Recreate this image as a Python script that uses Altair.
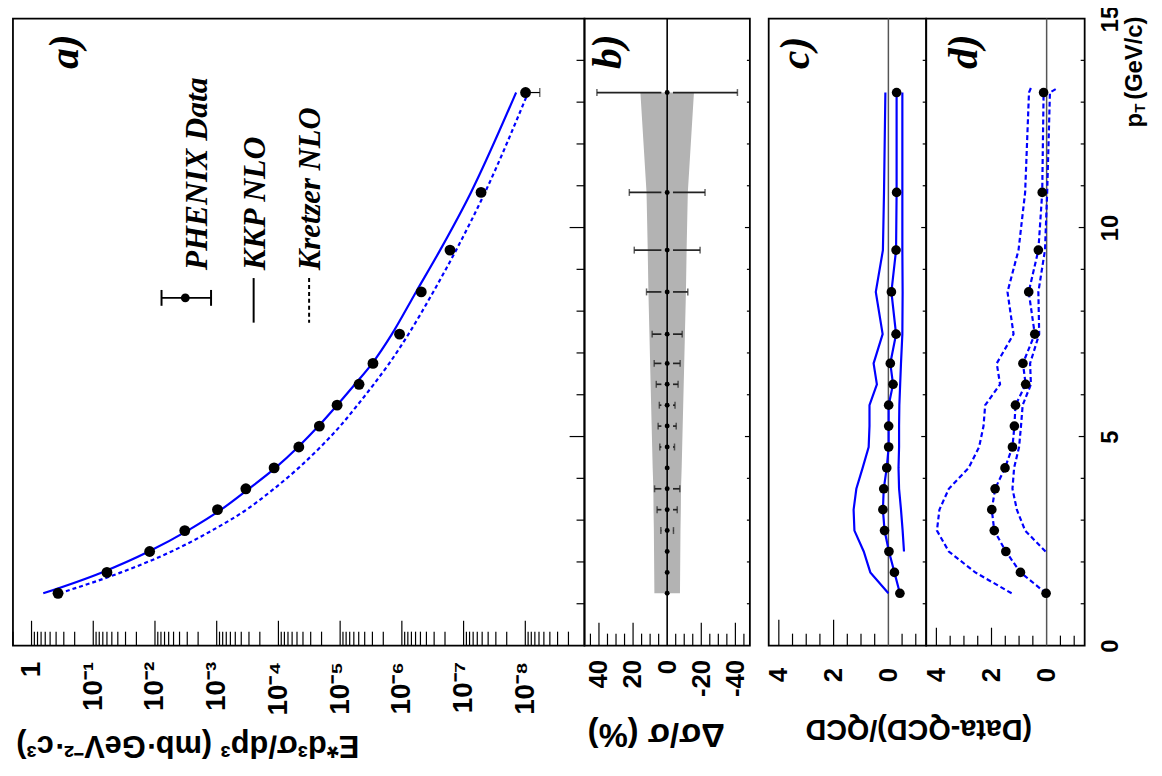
import altair as alt
import pandas as pd

# ---------------- values ----------------
pt = [1.25, 1.75, 2.25, 2.75, 3.25, 3.75, 4.25, 4.75, 5.25, 5.75,
      6.25, 6.75, 7.45, 8.46, 9.46, 10.84, 13.23]
xsec_data = [0.372, 0.0600, 0.0122, 3.29e-3, 9.70e-4, 3.37e-4, 1.175e-4,
             4.67e-5, 2.17e-5, 1.12e-5, 4.94e-6, 2.94e-6, 1.09e-6, 4.85e-7,
             1.66e-7, 5.21e-8, 9.9e-9]
xsec_kkp = [0.646, 0.0724, 0.0126, 2.95e-3, 8.51e-4, 3.02e-4, 1.12e-4,
            4.79e-5, 2.24e-5, 1.12e-5, 5.75e-6, 3.02e-6, 1.45e-6, 5.89e-7,
            2.40e-7, 7.59e-8, 1.41e-8]
xsec_kretzer = [0.355, 0.0355, 5.4e-3, 1.2e-3, 3.3e-4, 1.18e-4, 4.7e-5,
                2.08e-5, 1.0e-5, 5.25e-6, 2.85e-6, 1.6e-6, 7.8e-7, 3.1e-7,
                1.32e-7, 4.5e-8, 9.0e-9]
stat_err_pct = [0.0, 0.0, 0.0, 3.7, 5.9, 7.4, 0.0, 4.3, 5.3, 4.6, 6.4, 7.6,
                8.8, 12.1, 19.3, 22.2, 41.2]
sys_err_pct = [7.5, 7.6, 7.7, 7.8, 8.0, 8.1, 8.5, 8.8, 9.1, 9.4, 9.7, 10.0,
               10.4, 11.0, 11.4, 12.1, 15.7]

ratio_kkp = [-0.42, -0.22, -0.02, 0.14, 0.20, 0.17, 0.06, -0.01, -0.01,
             -0.01, -0.17, -0.07, -0.28, -0.11, -0.28, -0.30, -0.30]
ratio_kkp_mu2 = [0.0, 0.66, 0.90, 1.24, 1.27, 1.17, 0.94, 0.72, 0.69, 0.69,
                 0.42, 0.54, 0.21, 0.46, 0.20, 0.16, 0.11]
pt_mu_half = [2.25, 2.75, 3.25, 3.75, 4.25, 4.75, 5.25, 5.75, 6.25, 6.75,
              7.45, 8.46, 9.46, 10.84, 13.23]
ratio_kkp_mu_half = [-0.57, -0.52, -0.46, -0.39, -0.37, -0.39, -0.39, -0.40,
                     -0.43, -0.46, -0.51, -0.52, -0.51, -0.51, -0.51]

ratio_kretzer = [0.02, 0.95, 1.48, 1.90, 1.99, 1.87, 1.51, 1.24, 1.17, 1.13,
                 0.76, 0.86, 0.43, 0.65, 0.30, 0.16, 0.11]
pt_kretzer_mu2 = pt + [13.34]
ratio_kretzer_mu2 = [1.27, 2.59, 3.55, 3.98, 3.89, 3.55, 2.83, 2.45, 2.29,
                     2.23, 1.69, 1.81, 1.20, 1.42, 1.02, 0.78, 0.64, 0.57]
pt_kretzer_mu_half = pt_mu_half + [13.34]
ratio_kretzer_mu_half = [0.04, 0.78, 1.08, 1.24, 1.18, 1.00, 0.93, 0.87, 0.57,
                         0.60, 0.27, 0.30, 0.06, -0.02, -0.12, -0.40]

# tick labels
log_tick_values = [1, 1e-1, 1e-2, 1e-3, 1e-4, 1e-5, 1e-6, 1e-7, 1e-8]
log_tick_labels = ["1", "10⁻¹", "10⁻²", "10⁻³", "10⁻⁴", "10⁻⁵", "10⁻⁶",
                   "10⁻⁷", "10⁻⁸"]
pct_tick_values = [40, 20, 0, -20, -40]
ratio_tick_values = [4, 2, 0]
pt_tick_values = [0, 5, 10, 15]

# ---------------- layout / style ----------------
H = 633
W_A, W_B, W_GAP, W_C, W_D = 577, 167, 19, 159, 160
SANS = "Liberation Sans"
SERIF = "Liberation Serif"
BLUE = "#0000ff"

ys = alt.Scale(domain=[0, 15], nice=False, zero=False)
xs_a = alt.Scale(type="log", domain=[1.1e-9, 2.0], reverse=True, nice=False)
xs_b = alt.Scale(domain=[-48.5, 48.5], reverse=True, nice=False, zero=False)
xs_r = alt.Scale(domain=[-1.38, 4.37], reverse=True, nice=False, zero=False)

dummy = pd.DataFrame({"k": [0]})

log_minor = [k * 10.0 ** n for n in range(-9, 1) for k in range(2, 10)
             if 1.1e-9 <= k * 10.0 ** n <= 2.0]
pct_major = [40, 20, -20, -40]
pct_minor = [v for v in range(-45, 50, 5) if v % 20 != 0]
ratio_major = [4, 2]
ratio_minor = [v / 2 for v in range(-2, 9) if v not in (0, 4, 8)]
pt_major = [5, 10]
pt_minor = [v for v in range(1, 15) if v % 5 != 0]


def value_axis(values, padding, title="", title_x=0, title_y=0,
               label_expr=None, size=26, title_size=29):
    kw = dict(values=values, labelAngle=270, labelAlign="right",
              labelBaseline="middle", labelPadding=padding,
              labelFontSize=size, labelFont=SANS, labelFontWeight="bold",
              labelColor="black", labelOverlap=False, labelFlush=False,
              ticks=False, domain=False, grid=False, title=title)
    if label_expr:
        kw["labelExpr"] = label_expr
    if title:
        kw.update(titleAngle=180, titleFont=SANS,
                  titleFontSize=title_size, titleFontWeight="bold",
                  titleColor="black", titleX=title_x, titleY=title_y,
                  titleAlign="center", titleBaseline="middle")
    return alt.Axis(**kw)


class Panel:
    """Holds the scales/axes shared by every layer of one panel."""

    def __init__(self, xscale, xaxis, width, yaxis=None):
        self.xscale, self.xaxis, self.width, self.yaxis = xscale, xaxis, width, yaxis

    def X(self, field):
        return alt.X(f"{field}:Q", scale=self.xscale, axis=self.xaxis)

    def Y(self, field):
        return alt.Y(f"{field}:Q", scale=ys, axis=self.yaxis)

    def bottom_ticks(self, values, length):
        return alt.Chart(pd.DataFrame({"v": values})).mark_rule(
            color="black", strokeWidth=1.2).encode(
            x=self.X("v"), y=alt.value(H), y2=alt.value(H - length))

    def right_ticks(self, values, length):
        return alt.Chart(pd.DataFrame({"v": values})).mark_rule(
            color="black", strokeWidth=1.2).encode(
            y=self.Y("v"), x=alt.value(self.width),
            x2=alt.value(self.width - length))

    def zero_line(self, color, width):
        return alt.Chart(pd.DataFrame({"v": [0.0]})).mark_rule(
            color=color, strokeWidth=width).encode(
            x=self.X("v"), y=alt.value(0), y2=alt.value(H))


def rot_text(txt, x, y, size, font=SERIF, italic=True):
    kw = dict(fontStyle="italic") if italic else {}
    return alt.Chart(dummy).mark_text(
        text=txt, angle=270, align="left", baseline="middle", font=font,
        fontWeight="bold", fontSize=size, color="black", **kw).encode(
        x=alt.value(x), y=alt.value(y))


# ---------------- panel a ----------------
df_a = pd.DataFrame({"pt": pt, "data": xsec_data, "kkp": xsec_kkp,
                     "kretzer": xsec_kretzer, "err": stat_err_pct})
df_a["lo"] = df_a["data"] * (1 - df_a["err"] / 100)
df_a_err = df_a[df_a["err"] > 30]

expr_parts = [f"datum.value > {v * 0.5:.3g} ? '{lab}' : "
              for v, lab in zip(log_tick_values, log_tick_labels)]
log_label_expr = "".join(expr_parts) + "''"

axis_a = value_axis(log_tick_values, 16, "E*d³σ/dp³ (mb·GeV⁻²·c³)", 176, 100,
                    label_expr=log_label_expr, size=28, title_size=31)
PA = Panel(xs_a, axis_a, W_A)

base_a = alt.Chart(df_a)
kkp_line = base_a.mark_line(color=BLUE, strokeWidth=2.2,
                            interpolate="monotone").encode(
    x=PA.X("kkp"), y=PA.Y("pt"), order="pt:Q")
kre_line = base_a.mark_line(color=BLUE, strokeWidth=2.2, strokeDash=[4, 3],
                            interpolate="monotone").encode(
    x=PA.X("kretzer"), y=PA.Y("pt"), order="pt:Q")
err_a = alt.Chart(df_a_err).mark_rule(color="black", strokeWidth=1.2).encode(
    x=PA.X("lo"), x2="data:Q", y=PA.Y("pt"))
cap_lo_a = alt.Chart(df_a_err).mark_tick(orient="vertical", color="black",
                                         size=9, thickness=1.2).encode(
    x=PA.X("lo"), y=PA.Y("pt"))
pts_a = base_a.mark_circle(color="black", size=120, opacity=1).encode(
    x=PA.X("data"), y=PA.Y("pt"))

leg_bar = alt.Chart(dummy).mark_rule(color="black", strokeWidth=2).encode(
    x=alt.value(150), x2=alt.value(200), y=alt.value(282))
leg_cap1 = alt.Chart(dummy).mark_rule(color="black", strokeWidth=2).encode(
    x=alt.value(150), y=alt.value(274), y2=alt.value(290))
leg_cap2 = alt.Chart(dummy).mark_rule(color="black", strokeWidth=2).encode(
    x=alt.value(200), y=alt.value(274), y2=alt.value(290))
leg_dot = alt.Chart(dummy).mark_circle(color="black", size=80,
                                       opacity=1).encode(
    x=alt.value(174), y=alt.value(282))
leg_kkp = alt.Chart(dummy).mark_rule(color="black", strokeWidth=2).encode(
    x=alt.value(243), y=alt.value(262), y2=alt.value(307))
leg_kre = alt.Chart(dummy).mark_rule(color="black", strokeWidth=2,
                                     strokeDash=[4, 3]).encode(
    x=alt.value(299), y=alt.value(262), y2=alt.value(307))

panel_a = alt.layer(
    PA.bottom_ticks(log_tick_values, 25),
    PA.bottom_ticks(log_minor, 14),
    PA.right_ticks(pt_major, 15),
    PA.right_ticks(pt_minor, 8),
    kkp_line, kre_line, err_a, cap_lo_a, pts_a,
    leg_bar, leg_cap1, leg_cap2, leg_dot, leg_kkp, leg_kre,
    rot_text("PHENIX Data", 186, 254, 32),
    rot_text("KKP NLO", 244, 254, 32),
    rot_text("Kretzer NLO", 301, 254, 31),
    rot_text("a)", 53, 51, 42),
).properties(width=W_A, height=H)

# ---------------- panel b ----------------
GAP = 3.4
df_b = pd.DataFrame({"pt": pt, "err": stat_err_pct, "sys": sys_err_pct})
df_b["zero"] = 0.0
df_b["sys_lo"] = -df_b["sys"]
df_b["lo"] = -df_b["err"]
df_b["gap_lo"] = -GAP
df_b["gap_hi"] = GAP
df_b_err = df_b[df_b["err"] > 1]
df_b_seg = df_b[df_b["err"] > GAP]

axis_b = value_axis(pct_tick_values, 14, "Δσ/σ (%)", 72, 89,
                    label_expr="datum.value < 0 ? '-' + abs(datum.value) : '' + datum.value",
                    title_size=33)
PB = Panel(xs_b, axis_b, W_B)

band_b = alt.Chart(df_b).mark_area(orient="horizontal", color="#b3b3b3",
                                   opacity=1).encode(
    x=PB.X("sys_lo"), x2="sys:Q", y=PB.Y("pt"))
seg_b1 = alt.Chart(df_b_seg).mark_rule(color="#222222", strokeWidth=1.7).encode(
    x=PB.X("lo"), x2="gap_lo:Q", y=PB.Y("pt"))
seg_b2 = alt.Chart(df_b_seg).mark_rule(color="#222222", strokeWidth=1.7).encode(
    x=PB.X("gap_hi"), x2="err:Q", y=PB.Y("pt"))
cap_b1 = alt.Chart(df_b_err).mark_tick(orient="vertical", color="#222222",
                                       size=7, thickness=1.5).encode(
    x=PB.X("lo"), y=PB.Y("pt"))
cap_b2 = alt.Chart(df_b_err).mark_tick(orient="vertical", color="#222222",
                                       size=7, thickness=1.5).encode(
    x=PB.X("err"), y=PB.Y("pt"))
pts_b = alt.Chart(df_b).mark_circle(color="black", size=25, opacity=1).encode(
    x=PB.X("zero"), y=PB.Y("pt"))

panel_b = alt.layer(
    band_b, PB.zero_line("black", 1.6), seg_b1, seg_b2, cap_b1, cap_b2, pts_b,
    PB.bottom_ticks(pct_major, 23),
    PB.bottom_ticks(pct_minor, 12),
    PB.right_ticks(pt_major, 5),
    PB.right_ticks(pt_minor, 3),
    rot_text("b)", 24, 51, 42),
).properties(width=W_B, height=H)

# ---------------- spacer between b and c ----------------
spacer = alt.Chart(dummy).mark_point(opacity=0).encode(
    x=alt.value(0), y=alt.value(0)
).properties(width=W_GAP, height=H,
             view=alt.ViewBackground(strokeOpacity=0))

# ---------------- panel c ----------------
df_c = pd.DataFrame({"pt": pt, "r": ratio_kkp, "r2": ratio_kkp_mu2})
df_c_half = pd.DataFrame({"pt": pt_mu_half, "r": ratio_kkp_mu_half})

axis_c = value_axis(ratio_tick_values, 22, "(Data-QCD)/QCD", 151, 84)
PC = Panel(xs_r, axis_c, W_C)

lines_c = [
    alt.Chart(df_c).mark_line(color=BLUE, strokeWidth=2.2).encode(
        x=PC.X("r2"), y=PC.Y("pt"), order="pt:Q"),
    alt.Chart(df_c_half).mark_line(color=BLUE, strokeWidth=2.2).encode(
        x=PC.X("r"), y=PC.Y("pt"), order="pt:Q"),
    alt.Chart(df_c).mark_line(color=BLUE, strokeWidth=2.2).encode(
        x=PC.X("r"), y=PC.Y("pt"), order="pt:Q"),
]
pts_c = alt.Chart(df_c).mark_circle(color="black", size=95, opacity=1).encode(
    x=PC.X("r"), y=PC.Y("pt"))

panel_c = alt.layer(
    PC.zero_line("#555555", 1.5), *lines_c, pts_c,
    PC.bottom_ticks(ratio_major, 26),
    PC.bottom_ticks(ratio_minor, 12),
    PC.right_ticks(pt_major, 5),
    PC.right_ticks(pt_minor, 3.5),
    rot_text("c)", 28, 51, 42),
).properties(width=W_C, height=H)

# ---------------- panel d ----------------
df_d = pd.DataFrame({"pt": pt, "r": ratio_kretzer})
df_d_2 = pd.DataFrame({"pt": pt_kretzer_mu2, "r": ratio_kretzer_mu2})
df_d_half = pd.DataFrame({"pt": pt_kretzer_mu_half, "r": ratio_kretzer_mu_half})

axis_d = value_axis(ratio_tick_values, 22)
axis_pt = alt.Axis(orient="right", values=pt_tick_values, labelAngle=270,
                   labelAlign="center", labelBaseline="top", labelPadding=14,
                   labelFontSize=24, labelFont=SANS, labelFontWeight="bold",
                   labelColor="black", labelOverlap=False, labelFlush=False,
                   ticks=False, domain=False, grid=False, title="")
PD = Panel(xs_r, axis_d, W_D, yaxis=axis_pt)

lines_d = [
    alt.Chart(d).mark_line(color=BLUE, strokeWidth=2.2,
                           strokeDash=[5, 3]).encode(
        x=PD.X("r"), y=PD.Y("pt"), order="pt:Q")
    for d in (df_d_2, df_d_half, df_d)
]
pts_d = alt.Chart(df_d).mark_circle(color="black", size=95, opacity=1).encode(
    x=PD.X("r"), y=PD.Y("pt"))

panel_d = alt.layer(
    PD.zero_line("#555555", 1.5), *lines_d, pts_d,
    PD.bottom_ticks(ratio_major, 18),
    PD.bottom_ticks(ratio_minor, 10),
    PD.right_ticks(pt_major, 6),
    PD.right_ticks(pt_minor, 4),
    rot_text("d)", 38, 51, 42),
    rot_text("p", 211, 110, 24, font=SANS, italic=False),
    rot_text("T", 216, 95, 15, font=SANS, italic=False),
    rot_text("(GeV/c)", 211, 82, 24, font=SANS, italic=False),
).properties(width=W_D, height=H)

chart = alt.hconcat(panel_a, panel_b, spacer, panel_c, panel_d,
                    spacing=0, bounds="flush").properties(
    padding={"left": 3, "top": -8, "right": 5, "bottom": 5}
).configure_view(stroke="black", strokeWidth=1.8)

chart.save("out.html", embed_options={"renderer": "svg", "actions": False})
